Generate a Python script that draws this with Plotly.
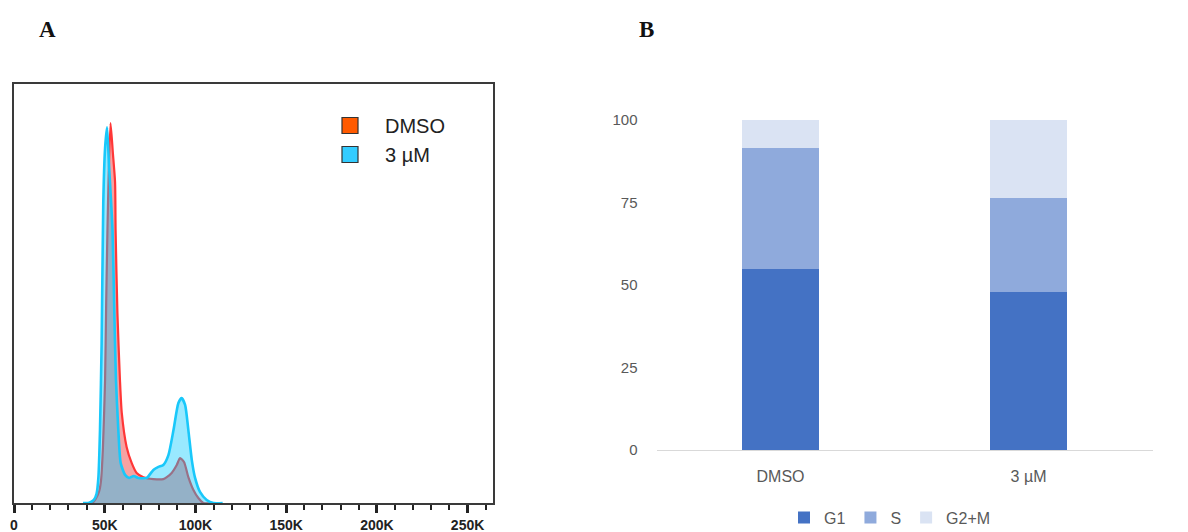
import plotly.graph_objects as go

# ---------------- Panel A: DNA content histogram (values in % of DMSO max) ----------------
dmso_x = [40, 43, 45, 47, 48, 49, 50.2, 50.8, 51.5, 52.2, 53.2, 54.5, 55.7, 56.0, 57.0, 58.4,
          59.4, 62.1, 64.9, 67.6, 71.3, 76.8, 82.3, 84.2, 86.9, 89.7, 91.5, 93.7, 96.1, 98.9,
          101.6, 104.4, 110]
dmso_y = [0, 0, 1.1, 3.2, 6.1, 14.5, 32.4, 52.6, 71.8, 86.8, 100, 92.1, 84.5, 71.8, 50, 32.4,
          23.7, 14.7, 10.5, 7.9, 6.8, 6.3, 6.3, 6.8, 7.9, 10, 11.8, 10.8, 6.8, 3.4,
          1.3, 0, 0]

trt_x = [38, 41, 44, 45.5, 46.5, 47.4, 48.3, 49.2, 50.2, 51.3, 52.3, 52.9, 54.3, 55.3, 56.2,
         57.5, 58.8, 61.2, 63.5, 66, 68.5, 73.1, 76.8, 79.6, 82.3, 85.1, 87.9, 90.6, 92.4,
         94.3, 96.1, 98, 99.8, 102.5, 106.2, 109.9, 115]
trt_y = [0, 0, 0.8, 2.4, 6.6, 19.2, 42.1, 78.9, 93.4, 98.9, 89.5, 84.5, 71.8, 50, 32.4,
         19.2, 10.5, 7.4, 6.6, 7.1, 6.6, 6.6, 8.7, 9.5, 10, 12.6, 19.2, 26.3, 27.6,
         25.8, 19.2, 11.3, 6.6, 2.9, 0.8, 0, 0]

hist_tickvals = [0, 50, 100, 150, 200, 250]
hist_ticktext = ["0", "50K", "100K", "150K", "200K", "250K"]
hist_names = ["DMSO", "3 µM"]

# ---------------- Panel B: cell-cycle distribution (%) ----------------
groups = ["DMSO", "3 µM"]
phases = ["G1", "S", "G2+M"]
g1 = [55.0, 48.0]
s_phase = [36.5, 28.5]
g2m = [8.5, 23.5]
bar_ticks = [0, 25, 50, 75, 100]

W, H = 1188, 532
OFF = 8  # page body margin


def px(x):
    return (x - OFF) / W


def py(y):
    return 1 - (y - OFF) / H


fig = go.Figure()

# histogram fills / lines
fig.add_trace(go.Scatter(
    x=dmso_x, y=dmso_y, mode="lines", fill="tozeroy",
    line=dict(color="rgb(255,55,55)", width=2.2, shape="spline", smoothing=0.6),
    fillcolor="rgba(240,70,70,0.5)", showlegend=False, hoverinfo="skip",
    xaxis="x", yaxis="y"))
fig.add_trace(go.Scatter(
    x=trt_x, y=trt_y, mode="lines", fill="tozeroy",
    line=dict(color="rgb(25,200,250)", width=2.6, shape="spline", smoothing=0.6),
    fillcolor="rgba(0,200,255,0.4)", showlegend=False, hoverinfo="skip",
    xaxis="x", yaxis="y"))

# histogram legend entries
for name, col in zip(hist_names, ["#ff5a00", "#33ccff"]):
    fig.add_trace(go.Scatter(
        x=[None], y=[None], mode="markers", name=name,
        marker=dict(symbol="square", size=16, color=col, line=dict(color="#333333", width=1.2)),
        legend="legend2", xaxis="x", yaxis="y"))

# stacked bars
bar_cols = ["#4472C4", "#8FAADC", "#DAE3F3"]
for name, vals, col in zip(phases, [g1, s_phase, g2m], bar_cols):
    fig.add_trace(go.Bar(
        x=groups, y=vals, name=name, marker=dict(color=col, line=dict(width=0)),
        legend="legend", xaxis="x2", yaxis="y2"))

fig.update_layout(
    width=W, height=H,
    margin=dict(l=0, r=0, t=0, b=0, autoexpand=False),
    paper_bgcolor="white", plot_bgcolor="white",
    barmode="stack", bargap=0.687,
    xaxis=dict(
        domain=[px(14), px(493)], range=[0, 264], anchor="y",
        tickvals=hist_tickvals, ticktext=hist_ticktext,
        ticks="outside", ticklen=8, tickwidth=2.5, tickcolor="#222222",
        minor=dict(dtick=10, ticks="outside", ticklen=5, tickwidth=1.5, tickcolor="#222222"),
        tickfont=dict(family="Liberation Sans", size=14, color="#222222", weight="bold"),
        showline=True, mirror=True, linecolor="#3a3a3a", linewidth=1.6,
        showgrid=False, zeroline=False, automargin=False,
    ),
    yaxis=dict(
        domain=[py(503), py(84)], range=[0, 110.3], anchor="x",
        showticklabels=False, ticks="",
        showline=True, mirror=True, linecolor="#3a3a3a", linewidth=1.6,
        showgrid=False, zeroline=False, automargin=False,
    ),
    xaxis2=dict(
        domain=[px(656.5), px(1152.5)], anchor="y2",
        showline=True, linecolor="#d9d9d9", linewidth=1.2,
        ticks="", ticklabelstandoff=12,
        tickfont=dict(family="Liberation Sans", size=16, color="#595959"),
        showgrid=False, zeroline=False, automargin=False,
    ),
    yaxis2=dict(
        domain=[py(450), py(120)], range=[0, 100], anchor="x2",
        tickvals=bar_ticks, ticks="", ticklabelstandoff=18,
        tickfont=dict(family="Liberation Sans", size=15, color="#595959"),
        showline=False, showgrid=False, zeroline=False, automargin=False,
    ),
    legend=dict(
        orientation="h", x=px(890), xanchor="center", y=py(517.7), yanchor="middle",
        font=dict(family="Liberation Sans", size=16, color="#595959"),
        bgcolor="rgba(0,0,0,0)", itemwidth=30, traceorder="normal",
    ),
    legend2=dict(
        x=px(315), xanchor="left", y=py(106), yanchor="top",
        font=dict(family="Liberation Sans", size=20, color="#222222"),
        bgcolor="rgba(0,0,0,0)", itemwidth=60, tracegroupgap=0,
    ),
    annotations=[
        dict(text="A", x=px(47), y=py(29), xref="paper", yref="paper",
             showarrow=False, xanchor="center", yanchor="middle",
             font=dict(family="Liberation Serif", size=23, color="#111111", weight="bold")),
        dict(text="B", x=px(646), y=py(29), xref="paper", yref="paper",
             showarrow=False, xanchor="center", yanchor="middle",
             font=dict(family="Liberation Serif", size=23, color="#111111", weight="bold")),
    ],
)

fig.write_html("out.html")
